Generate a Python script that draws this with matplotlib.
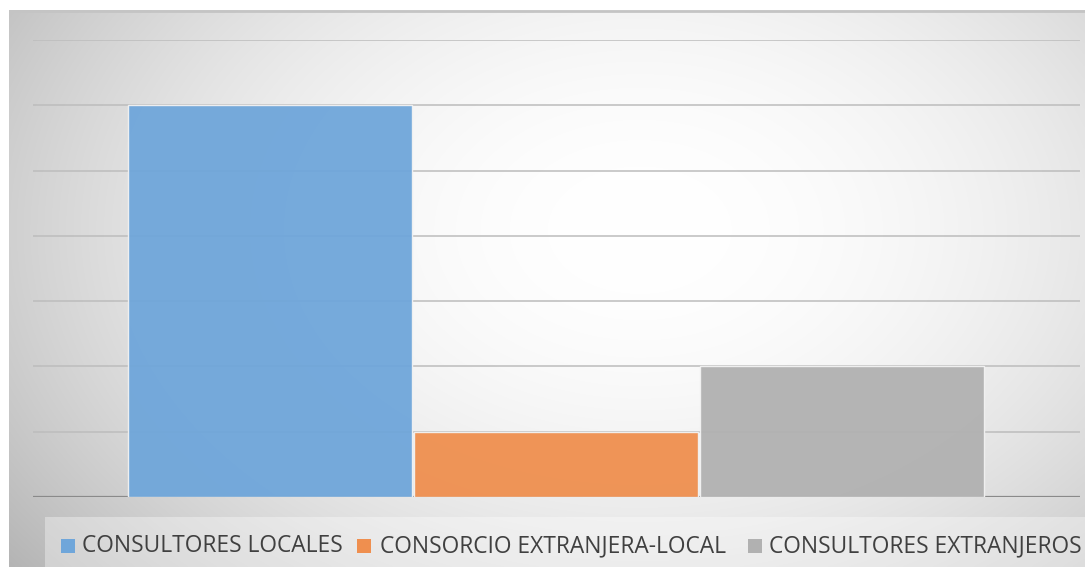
import numpy as np
import matplotlib
matplotlib.use("Agg")
import matplotlib.pyplot as plt
from matplotlib.patches import Rectangle

series = ["CONSULTORES LOCALES", "CONSORCIO EXTRANJERA-LOCAL", "CONSULTORES EXTRANJEROS"]
values = [6, 1, 2]
colors = ["#6fa6da", "#ef8f4f", "#b1b1b1"]

W, H = 1085, 567
fig = plt.figure(figsize=(W / 100, H / 100), dpi=100)
fig.patch.set_facecolor("white")

# background chart area with radial gradient
bg = fig.add_axes([9 / W, 0, 1 - 9 / W, 1 - 10 / H])
bg.set_axis_off()
nx, ny = 540, 280
xx, yy = np.meshgrid(np.linspace(9, W, nx), np.linspace(10, H, ny))
d = np.sqrt(((xx - 640) / 720) ** 2 + ((yy - 230) / 500) ** 2)
g = 1 - 0.24 * np.clip(d, 0, 1.2) ** 2.0
g = np.clip(g, 0, 1)
img = np.dstack([g, g, g])
bg.imshow(img, extent=[0, 1, 0, 1], aspect="auto", origin="upper", interpolation="bilinear")
bg.set_xlim(0, 1)
bg.set_ylim(0, 1)
bg.plot([0, 1], [0.999, 0.999], color="#c4c4c4", lw=2, transform=bg.transAxes)

ax = fig.add_axes([33 / W, 70 / H, 1047 / W, 457 / H])
ax.patch.set_alpha(0)
x = np.arange(len(series))
ax.bar(x, values, width=0.995, color=colors, edgecolor="#f2f2f2", linewidth=1.0,
       alpha=0.95, zorder=3)
ax.set_ylim(0, 7)
ax.set_xlim(-0.5 - 94 / 286, 2.5 + 95 / 286)
for yv in range(1, 8):
    ax.axhline(yv, color="#bdbdbd", lw=1.4, zorder=2, alpha=0.8)
ax.axhline(0, color="#8a8a8a", lw=1.6, zorder=1)
ax.set_xticks([])
ax.set_yticks([])
for s in ax.spines.values():
    s.set_visible(False)

# legend background
fig.patches.append(Rectangle((45 / W, 0), 1, 50 / H, transform=fig.transFigure,
                             facecolor="white", alpha=0.35, edgecolor="none", zorder=1))

sq_x = [61, 357, 748]
tx_x = [82, 380, 769]
ytxt = 1 - 546 / H
fig.canvas.draw()
r = fig.canvas.get_renderer()
texts = []
for i, name in enumerate(series):
    fig.patches.append(Rectangle((sq_x[i] / W, 1 - 553 / H), 14 / W, 14 / H,
                                 transform=fig.transFigure, facecolor=colors[i],
                                 edgecolor="none", zorder=2))
    t = fig.text(tx_x[i] / W, ytxt, name, fontsize=16, color="#404040",
                 family="Open Sans", va="center", ha="left", zorder=3)
    texts.append(t)
bb = texts[0].get_window_extent(renderer=r)
fs = 16 * 260 / bb.width
for t in texts:
    t.set_fontsize(fs)

fig.savefig("out.png", dpi=100)
